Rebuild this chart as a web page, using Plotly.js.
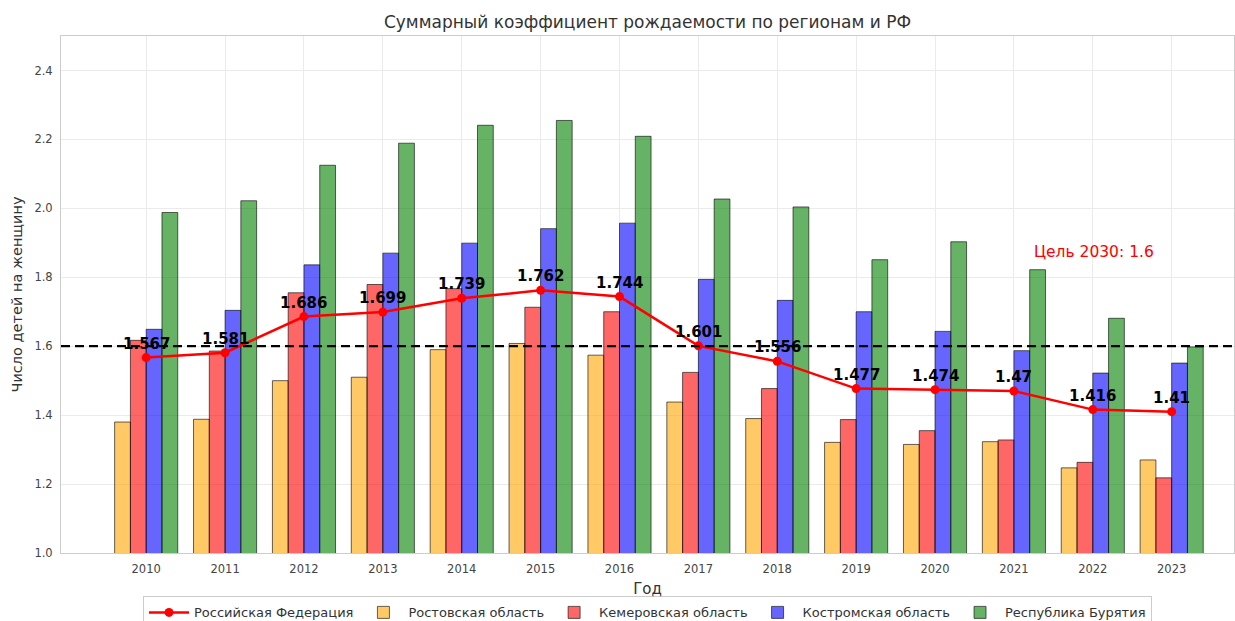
<!DOCTYPE html>
<html>
<head>
<meta charset="utf-8">
<script src="https://cdn.plot.ly/plotly-3.0.1.min.js"></script>
<style>html,body{margin:0;padding:0;background:#fff;}#chart{width:1235px;height:621px;}</style>
</head>
<body>
<div id="chart"></div>
<script>
const years = [2010,2011,2012,2013,2014,2015,2016,2017,2018,2019,2020,2021,2022,2023];
const rf = [1.567,1.581,1.686,1.699,1.739,1.762,1.744,1.601,1.556,1.477,1.474,1.47,1.416,1.41];
const rostov = [1.380,1.388,1.500,1.510,1.590,1.608,1.574,1.438,1.390,1.321,1.315,1.323,1.247,1.270];
const kemerovo = [1.617,1.586,1.755,1.779,1.767,1.713,1.700,1.524,1.477,1.387,1.355,1.328,1.263,1.218];
const kostroma = [1.649,1.704,1.836,1.870,1.899,1.941,1.957,1.794,1.733,1.700,1.643,1.587,1.522,1.551];
const buryatia = [1.988,2.022,2.125,2.189,2.241,2.255,2.209,2.027,2.004,1.851,1.903,1.822,1.681,1.598];
const seriesNames = ['Российская Федерация','Ростовская область','Кемеровская область','Костромская область','Республика Бурятия'];
const goal = 1.6;
const goalText = 'Цель 2030: 1.6';

const F = 'DejaVu Sans, sans-serif';
const edge = {color:'rgba(0,0,0,0.6)', width:1};
function bar(name, y, color){
  return {type:'bar', name:name, x:years, y:y, marker:{color:color, line:edge}, hoverinfo:'skip'};
}
const data = [
  {type:'scatter', mode:'lines+markers', name:seriesNames[0], x:years, y:rf,
   line:{color:'red', width:2.5}, marker:{color:'red', size:9}},
  bar(seriesNames[1], rostov, 'rgba(255,165,0,0.6)'),
  bar(seriesNames[2], kemerovo, 'rgba(255,0,0,0.6)'),
  bar(seriesNames[3], kostroma, 'rgba(0,0,255,0.6)'),
  bar(seriesNames[4], buryatia, 'rgba(0,128,0,0.6)')
];

const annotations = years.map((yr,i)=>({
  x:yr, y:rf[i], xref:'x', yref:'y', text:String(rf[i]), showarrow:false,
  yanchor:'bottom', yshift:3, font:{family:F, size:15, color:'black', weight:'bold'}
}));
annotations.push({x:2021.23, y:1.872, xref:'x', yref:'y', text:goalText, showarrow:false,
  xanchor:'left', yanchor:'middle', font:{family:F, size:15.5, color:'red'}});

const layout = {
  width:1235, height:621,
  margin:{l:61, r:1, t:36, b:68, autoexpand:false},
  paper_bgcolor:'#fff', plot_bgcolor:'#fff',
  font:{family:F, color:'#333'},
  title:{text:'Суммарный коэффициент рождаемости по регионам и РФ', xref:'paper', x:0.5, xanchor:'center', y:0.965, yanchor:'middle', font:{family:F, size:17, color:'#333'}},
  barmode:'group', bargap:0.2, bargroupgap:0,
  xaxis:{range:[2008.92, 2023.79], tickvals:years, ticktext:years.map(String),
    showgrid:true, gridcolor:'#ebebeb', gridwidth:1, zeroline:false,
    showline:true, linecolor:'#cccccc', linewidth:1, mirror:true, ticks:'outside', ticklen:5, tickcolor:'rgba(0,0,0,0)',
    tickfont:{family:F, size:11.5, color:'#444'}, automargin:false,
    title:{text:'Год', standoff:8, font:{family:F, size:15, color:'#333'}}},
  yaxis:{range:[1.0, 2.5], tick0:1.0, dtick:0.2, tickformat:'.1f',
    showgrid:true, gridcolor:'#ebebeb', gridwidth:1, zeroline:false,
    showline:true, linecolor:'#cccccc', linewidth:1, mirror:true, ticks:'outside', ticklen:5, tickcolor:'rgba(0,0,0,0)',
    tickfont:{family:F, size:11.5, color:'#444'}, automargin:false,
    title:{text:'Число детей на женщину', standoff:8, font:{family:F, size:14.5, color:'#333'}}},
  shapes:[{type:'line', xref:'paper', x0:0, x1:1, yref:'y', y0:goal, y1:goal,
    line:{color:'black', width:2.2, dash:'9px,5px'}, layer:'above'}],
  annotations:annotations,
  showlegend:true,
  legend:{orientation:'h', x:0.5, xanchor:'center', y:-0.084, yanchor:'top',
    bordercolor:'#cccccc', borderwidth:1, bgcolor:'#fff', itemwidth:40,
    font:{family:F, size:13, color:'#333'}, traceorder:'normal'}
};
Plotly.newPlot('chart', data, layout, {displayModeBar:false, staticPlot:true});
</script>
</body>
</html>
